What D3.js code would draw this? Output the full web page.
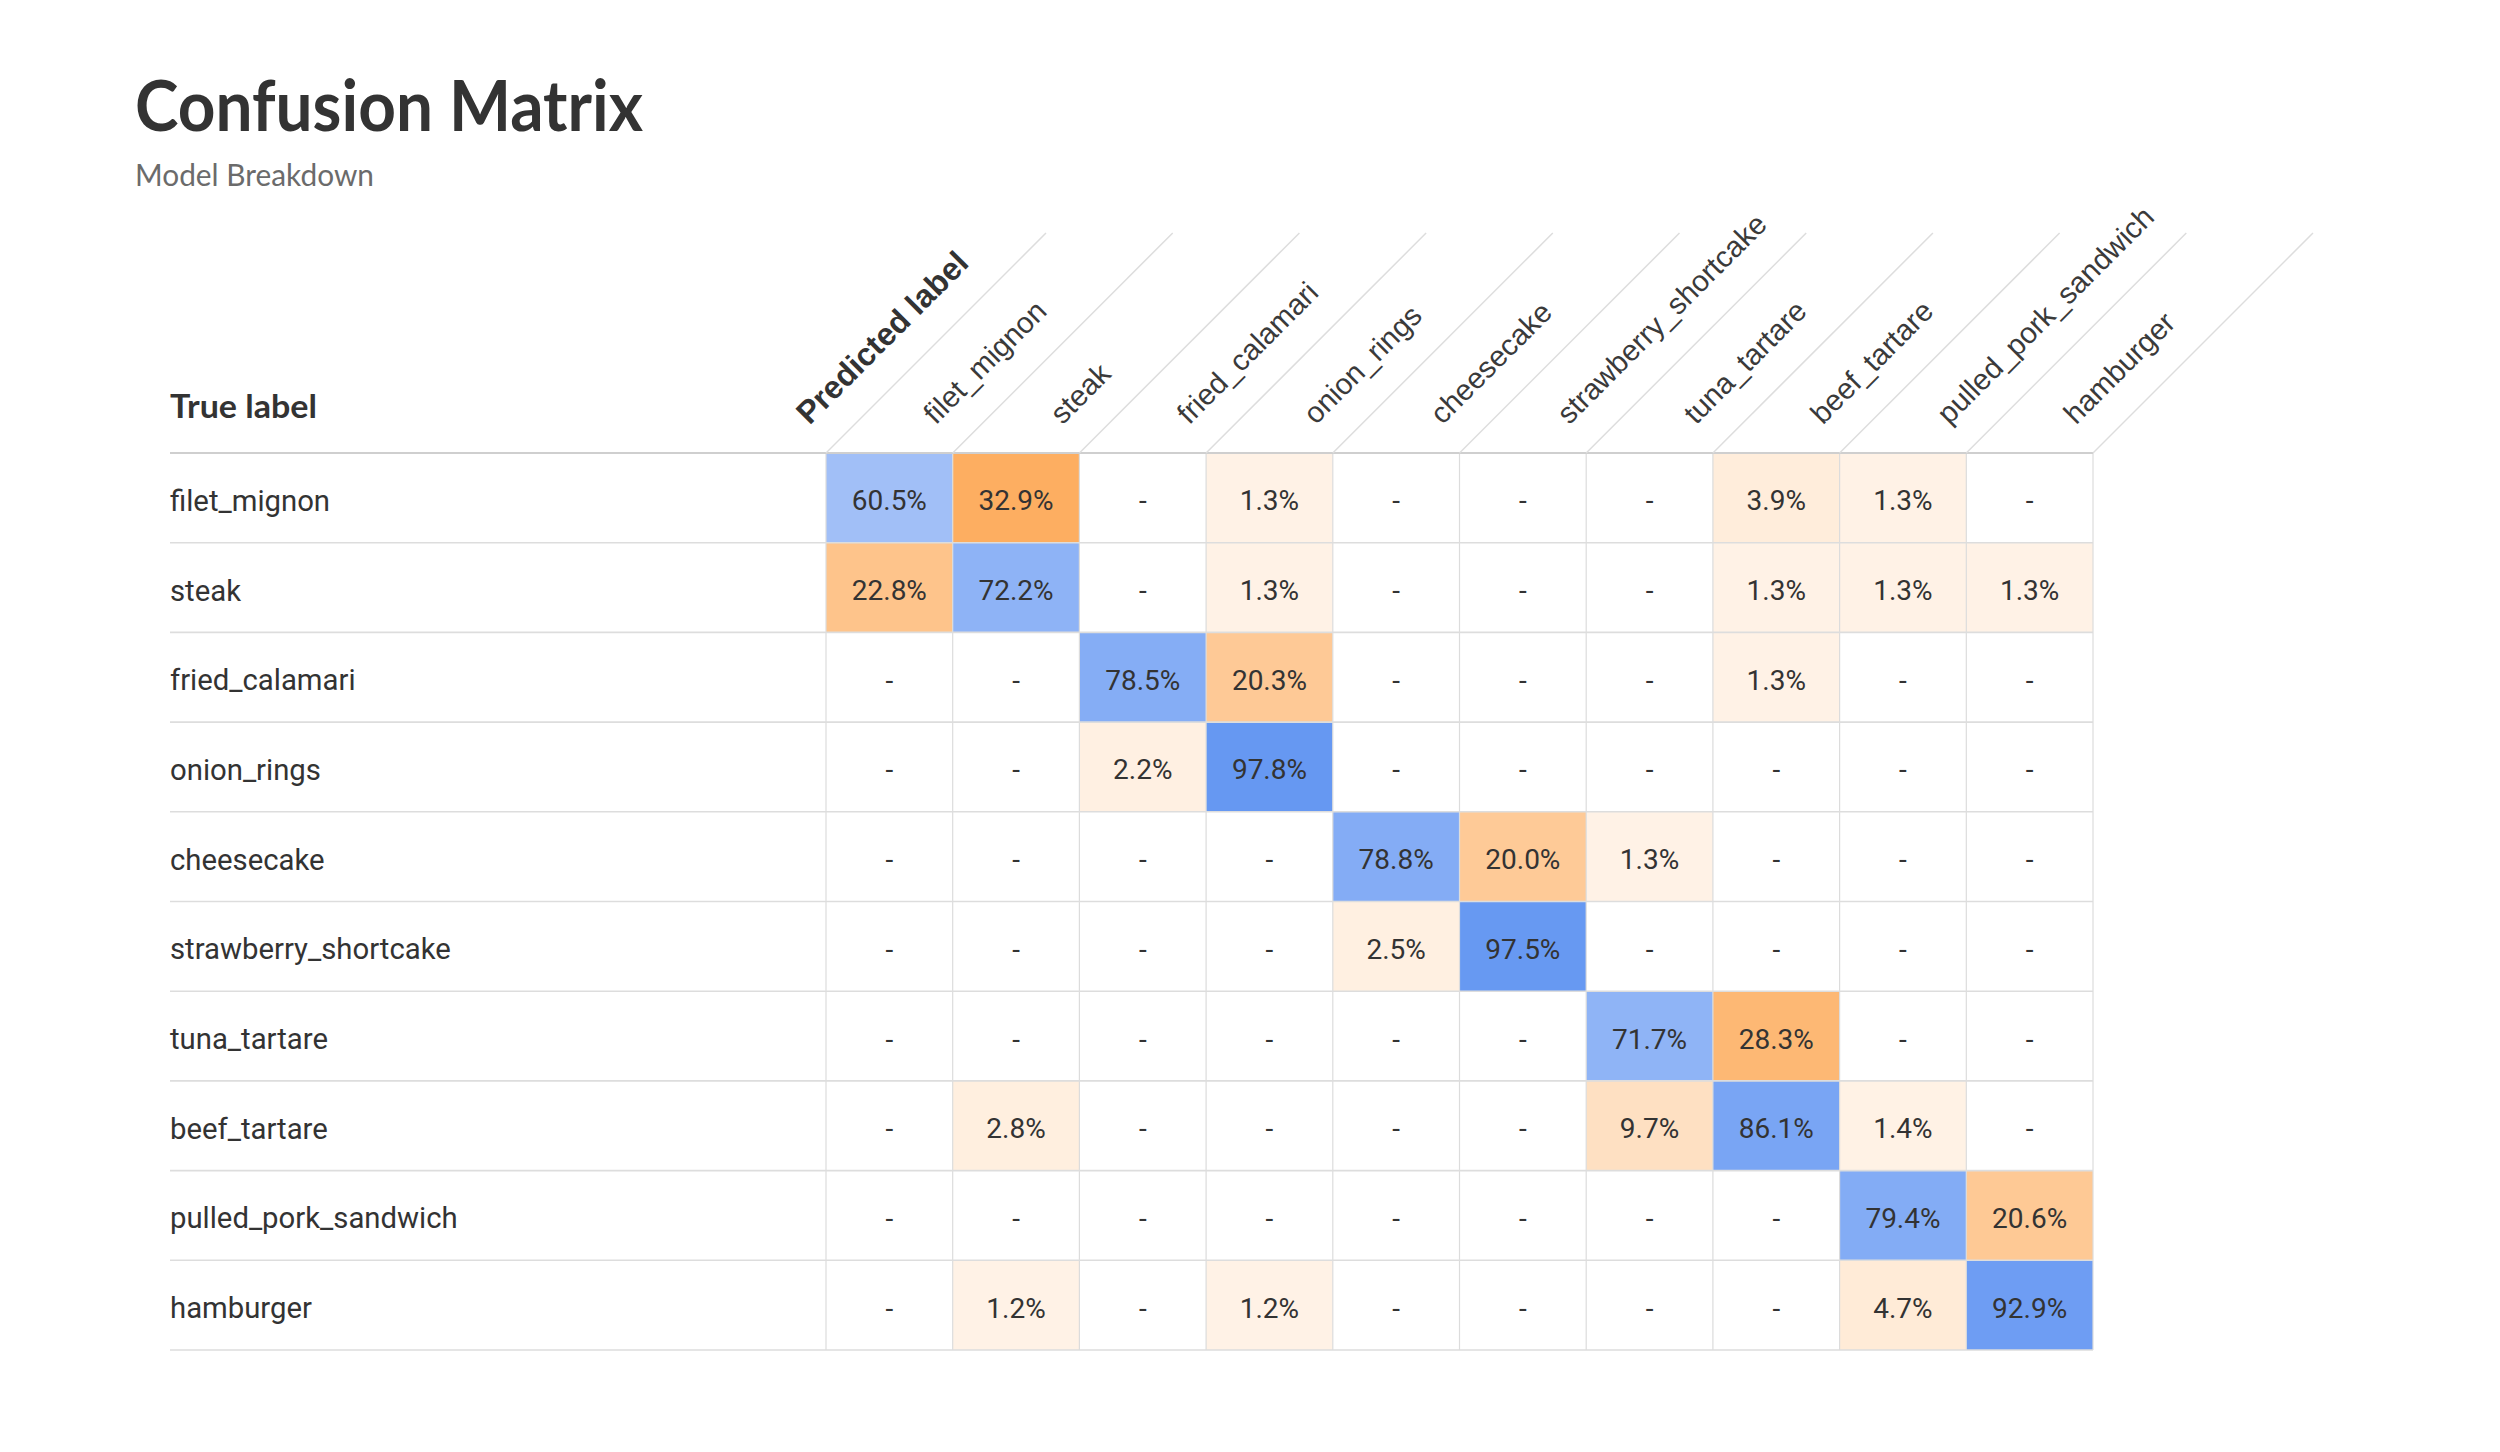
<!DOCTYPE html>
<html>
<head>
<meta charset="utf-8">
<script src="https://cdn.jsdelivr.net/npm/d3@7/dist/d3.min.js"></script>
<style>
  html, body { margin: 0; padding: 0; background: #ffffff; }
  svg { display: block; }
</style>
</head>
<body>
<svg id="chart" width="2500" height="1452"></svg>
<script>
// ---- data ----
const titleText = "Confusion Matrix";
const subtitleText = "Model Breakdown";
const trueAxisLabel = "True label";
const predAxisLabel = "Predicted label";

const categories = ["filet_mignon", "steak", "fried_calamari", "onion_rings", "cheesecake",
  "strawberry_shortcake", "tuna_tartare", "beef_tartare", "pulled_pork_sandwich", "hamburger"];

// percentages per true label (columns = predicted label, same order as categories)
const rowFiletMignon       = [60.5, 32.9, 0, 1.3, 0, 0, 0, 3.9, 1.3, 0];
const rowSteak             = [22.8, 72.2, 0, 1.3, 0, 0, 0, 1.3, 1.3, 1.3];
const rowFriedCalamari     = [0, 0, 78.5, 20.3, 0, 0, 0, 1.3, 0, 0];
const rowOnionRings        = [0, 0, 2.2, 97.8, 0, 0, 0, 0, 0, 0];
const rowCheesecake        = [0, 0, 0, 0, 78.8, 20.0, 1.3, 0, 0, 0];
const rowStrawberry        = [0, 0, 0, 0, 2.5, 97.5, 0, 0, 0, 0];
const rowTunaTartare       = [0, 0, 0, 0, 0, 0, 71.7, 28.3, 0, 0];
const rowBeefTartare       = [0, 2.8, 0, 0, 0, 0, 9.7, 86.1, 1.4, 0];
const rowPulledPork        = [0, 0, 0, 0, 0, 0, 0, 0, 79.4, 20.6];
const rowHamburger         = [0, 1.2, 0, 1.2, 0, 0, 0, 0, 4.7, 92.9];

const matrixRows = [rowFiletMignon, rowSteak, rowFriedCalamari, rowOnionRings, rowCheesecake,
  rowStrawberry, rowTunaTartare, rowBeefTartare, rowPulledPork, rowHamburger];

// ---- layout ----
const svg = d3.select("#chart");
const gridLeft = 826, gridRight = 2093, gridTop = 453, gridBottom = 1350;
const labelLeft = 170;
const slant = 220;

const x = d3.scaleBand().domain(categories).range([gridLeft, gridRight]).padding(0);
const y = d3.scaleBand().domain(categories).range([gridTop, gridBottom]).padding(0);
const bw = x.bandwidth(), bh = y.bandwidth();

const cells = [];
matrixRows.forEach((row, i) => row.forEach((v, j) => cells.push({ t: categories[i], p: categories[j], v, diag: i === j })));

const offMax = d3.max(cells.filter(d => !d.diag), d => d.v);
const blueScale = d3.scaleLinear().domain([0, 100]).range(["#ffffff", "#6396f2"]).interpolate(d3.interpolateRgb);
const orangeScale = d3.scaleLinear().domain([0, offMax]).range(["#fff5eb", "#fdae61"]).interpolate(d3.interpolateRgb);
const fillFor = d => d.v === 0 ? "#ffffff" : (d.diag ? blueScale(d.v) : orangeScale(d.v));

// title
svg.append("text").attr("x", 135).attr("y", 131)
  .attr("font-family", "Lato, 'Noto Sans', sans-serif").attr("font-weight", 700)
  .attr("font-size", 70).attr("fill", "#333333")
  .attr("textLength", 508).attr("lengthAdjust", "spacingAndGlyphs")
  .text(titleText);
svg.append("text").attr("x", 135).attr("y", 186)
  .attr("font-family", "Lato, 'Noto Sans', sans-serif").attr("font-weight", 400)
  .attr("font-size", 30).attr("fill", "#6b6b6b")
  .attr("textLength", 239).attr("lengthAdjust", "spacingAndGlyphs")
  .text(subtitleText);

// cells
svg.append("g").selectAll("rect").data(cells).join("rect")
  .attr("x", d => x(d.p)).attr("y", d => y(d.t))
  .attr("width", bw).attr("height", bh)
  .attr("fill", fillFor);

// vertical grid lines
const colEdges = categories.map(c => x(c)).concat([gridRight]);
svg.append("g").selectAll("line").data(colEdges).join("line")
  .attr("x1", d => d).attr("x2", d => d)
  .attr("y1", gridTop).attr("y2", gridBottom)
  .attr("stroke", "#dcdcdc").attr("stroke-width", 1.2);

// horizontal row lines
const rowEdges = categories.map(c => y(c)).concat([gridBottom]);
svg.append("g").selectAll("line").data(rowEdges).join("line")
  .attr("x1", labelLeft).attr("x2", gridRight)
  .attr("y1", d => d).attr("y2", d => d)
  .attr("stroke", (d, i) => i === 0 ? "#cfcfcf" : "#dddddd")
  .attr("stroke-width", (d, i) => i === 0 ? 2.2 : 1.6);

// slanted header lines
svg.append("g").selectAll("line").data(colEdges).join("line")
  .attr("x1", d => d).attr("y1", gridTop)
  .attr("x2", d => d + slant).attr("y2", gridTop - slant)
  .attr("stroke", "#dddddd").attr("stroke-width", 1.5);

// column labels (rotated)
const headOff = 37;
svg.append("g").selectAll("text").data(categories).join("text")
  .attr("transform", d => `translate(${x(d) + bw / 2 + headOff + 2},${gridTop - headOff + 2}) rotate(-45)`)
  .attr("dominant-baseline", "central")
  .attr("font-family", "'Liberation Sans', Arial, sans-serif")
  .attr("font-size", 29.5).attr("fill", "#3a3a3a").text(d => d);

svg.append("text")
  .attr("transform", `translate(${gridLeft - bw / 2 + headOff + 2},${gridTop - headOff + 2}) rotate(-45)`)
  .attr("dominant-baseline", "central")
  .attr("font-family", "'Liberation Sans', Arial, sans-serif").attr("font-weight", 700)
  .attr("font-size", 32).attr("fill", "#333333").text(predAxisLabel);

// True label
svg.append("text").attr("x", labelLeft).attr("y", 418)
  .attr("font-family", "Lato, 'Noto Sans', sans-serif").attr("font-weight", 700)
  .attr("font-size", 33).attr("fill", "#333333")
  .attr("textLength", 147).attr("lengthAdjust", "spacingAndGlyphs")
  .text(trueAxisLabel);

// row labels
svg.append("g").selectAll("text").data(categories).join("text")
  .attr("x", labelLeft).attr("y", d => y(d) + bh / 2 + 3)
  .attr("dominant-baseline", "central")
  .attr("font-family", "Roboto, sans-serif").attr("font-size", 29.3)
  .attr("fill", "#333333").text(d => d);

// cell values
svg.append("g").selectAll("text").data(cells).join("text")
  .attr("x", d => x(d.p) + bw / 2).attr("y", d => y(d.t) + bh / 2 + 3)
  .attr("text-anchor", "middle").attr("dominant-baseline", "central")
  .attr("font-family", "Roboto, sans-serif").attr("font-size", 28)
  .attr("fill", "#333333")
  .text(d => d.v === 0 ? "-" : d.v.toFixed(1) + "%");
</script>
</body>
</html>
